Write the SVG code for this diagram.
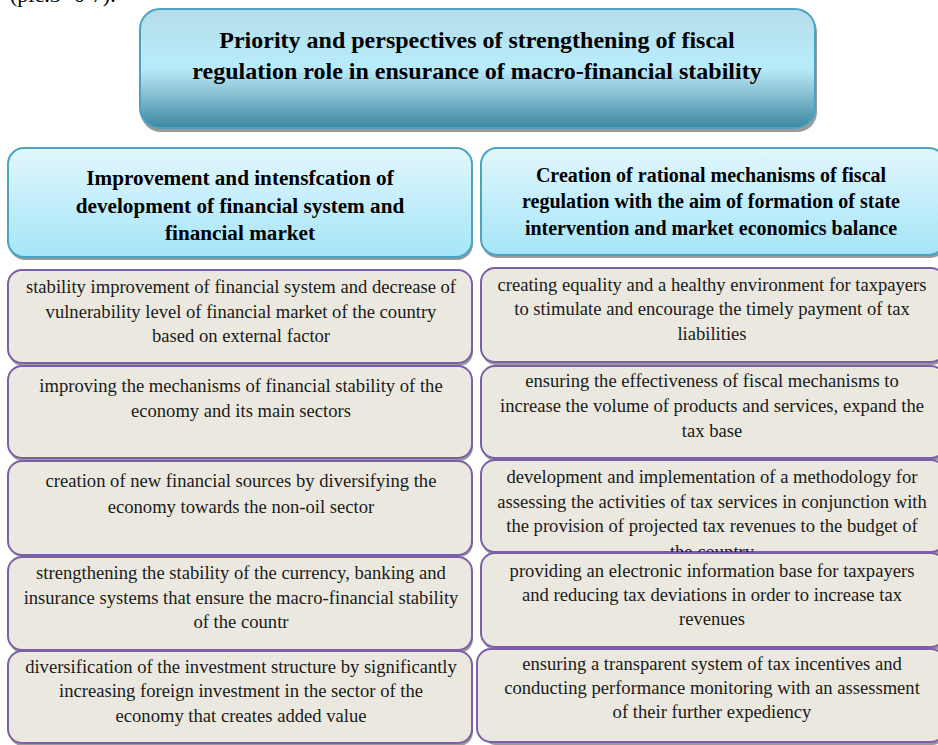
<svg xmlns="http://www.w3.org/2000/svg" width="938" height="745" viewBox="0 0 938 745">
<defs>
<linearGradient id="gTitle" x1="0" y1="0" x2="0" y2="1">
<stop offset="0" stop-color="#b6dde9"/>
<stop offset="0.5" stop-color="#b8ecfb"/>
<stop offset="0.62" stop-color="#9fd3e3"/>
<stop offset="1" stop-color="#3b87a0"/>
</linearGradient>
<linearGradient id="gHead" x1="0" y1="0" x2="0" y2="1">
<stop offset="0" stop-color="#e2f7fd"/>
<stop offset="1" stop-color="#a5e5f8"/>
</linearGradient>
<clipPath id="clipR3"><rect x="481" y="460" width="457" height="92" rx="14"/></clipPath>
</defs>
<style>
.shadow{fill:#9a9a9a}
.title{fill:url(#gTitle);stroke:#4ba3c2;stroke-width:2}
.head{fill:url(#gHead);stroke:#4ba3c2;stroke-width:2}
.item{fill:#ebe9df;stroke:#7d5fa6;stroke-width:2}
.tt{font-family:"Liberation Serif","Times New Roman",serif;font-weight:bold;font-size:24px;fill:#000;text-anchor:middle}
.htl{font-family:"Liberation Serif","Times New Roman",serif;font-weight:bold;font-size:21.2px;fill:#000;text-anchor:middle}
.htr{font-family:"Liberation Serif","Times New Roman",serif;font-weight:bold;font-size:20px;fill:#000;text-anchor:middle}
.it{font-family:"Liberation Serif","Times New Roman",serif;font-size:18.6px;fill:#1a1a1a;text-anchor:middle}
.pre{font-family:"Liberation Serif","Times New Roman",serif;font-size:22px;fill:#000}
</style>
<text class="pre" x="10" y="2">(pic.3- 6-7).</text>
<g id="title">
<rect class="shadow" x="141" y="12" width="676" height="120" rx="20"/>
<rect class="title" x="140" y="9" width="675" height="119" rx="20"/>
<text class="tt" x="477" y="48">Priority and perspectives of strengthening of fiscal</text>
<text class="tt" x="477" y="79">regulation role in ensurance of macro-financial stability</text>
</g>
<g id="head-left">
<rect class="shadow" x="9" y="151" width="464" height="109" rx="16"/>
<rect class="head" x="8" y="148" width="464" height="109" rx="16"/>
<text class="htl" x="240" y="185">Improvement and intensfcation of</text>
<text class="htl" x="240" y="213">development of financial system and</text>
<text class="htl" x="240" y="240">financial market</text>
</g>
<g id="head-right">
<rect class="shadow" x="482" y="151" width="464" height="107" rx="16"/>
<rect class="head" x="481" y="148" width="464" height="107" rx="16"/>
<text class="htr" x="711" y="182">Creation of rational mechanisms of fiscal</text>
<text class="htr" x="711" y="208">regulation with the aim of formation of state</text>
<text class="htr" x="711" y="235">intervention and market economics balance</text>
</g>
<g id="left-1">
<rect class="shadow" x="9" y="273" width="464" height="93" rx="14"/>
<rect class="item" x="8" y="270" width="464" height="93" rx="14"/>
<text class="it" x="241" y="293">stability improvement of financial system and decrease of</text>
<text class="it" x="241" y="318">vulnerability level of financial market of the country</text>
<text class="it" x="241" y="342">based on external factor</text>
</g>
<g id="left-2">
<rect class="shadow" x="9" y="369" width="464" height="92" rx="14"/>
<rect class="item" x="8" y="366" width="464" height="92" rx="14"/>
<text class="it" x="241" y="392">improving the mechanisms of financial stability of the</text>
<text class="it" x="241" y="417">economy and its main sectors</text>
</g>
<g id="left-3">
<rect class="shadow" x="9" y="464" width="464" height="93" rx="14"/>
<rect class="item" x="8" y="461" width="464" height="94" rx="14"/>
<text class="it" x="241" y="487">creation of new financial sources by diversifying the</text>
<text class="it" x="241" y="513">economy towards the non-oil sector</text>
</g>
<g id="left-4">
<rect class="shadow" x="9" y="560" width="464" height="93" rx="14"/>
<rect class="item" x="8" y="557" width="464" height="93" rx="14"/>
<text class="it" x="241" y="579">strengthening the stability of the currency, banking and</text>
<text class="it" x="241" y="604">insurance systems that ensure the macro-financial stability</text>
<text class="it" x="241" y="628">of the countr</text>
</g>
<g id="left-5">
<rect class="shadow" x="9" y="654" width="464" height="92" rx="14"/>
<rect class="item" x="8" y="651" width="464" height="92" rx="14"/>
<text class="it" x="241" y="673">diversification of the investment structure by significantly</text>
<text class="it" x="241" y="697">increasing foreign investment in the sector of the</text>
<text class="it" x="241" y="722">economy that creates added value</text>
</g>
<g id="right-1">
<rect class="shadow" x="482" y="271" width="464" height="94" rx="14"/>
<rect class="item" x="481" y="268" width="464" height="94" rx="14"/>
<text class="it" x="712" y="291">creating equality and a healthy environment for taxpayers</text>
<text class="it" x="712" y="315">to stimulate and encourage the timely payment of tax</text>
<text class="it" x="712" y="340">liabilities</text>
</g>
<g id="right-2">
<rect class="shadow" x="482" y="369" width="464" height="92" rx="14"/>
<rect class="item" x="481" y="366" width="464" height="92" rx="14"/>
<text class="it" x="712" y="387">ensuring the effectiveness of fiscal mechanisms to</text>
<text class="it" x="712" y="412">increase the volume of products and services, expand the</text>
<text class="it" x="712" y="437">tax base</text>
</g>
<g id="right-3">
<rect class="shadow" x="482" y="463" width="464" height="92" rx="14"/>
<rect class="item" x="481" y="460" width="464" height="92" rx="14"/>
<g clip-path="url(#clipR3)">
<text class="it" x="712" y="483">development and implementation of a methodology for</text>
<text class="it" x="712" y="508">assessing the activities of tax services in conjunction with</text>
<text class="it" x="712" y="532">the provision of projected tax revenues to the budget of</text>
<text class="it" x="712" y="558">the country</text>
</g>
</g>
<g id="right-4">
<rect class="shadow" x="482" y="556" width="464" height="94" rx="14"/>
<rect class="item" x="481" y="553" width="464" height="94" rx="14"/>
<text class="it" x="712" y="577">providing an electronic information base for taxpayers</text>
<text class="it" x="712" y="601">and reducing tax deviations in order to increase tax</text>
<text class="it" x="712" y="625">revenues</text>
</g>
<g id="right-5">
<rect class="shadow" x="482" y="652" width="464" height="93" rx="14"/>
<rect class="item" x="477" y="649" width="468" height="93" rx="14"/>
<text class="it" x="712" y="670">ensuring a transparent system of tax incentives and</text>
<text class="it" x="712" y="694">conducting performance monitoring with an assessment</text>
<text class="it" x="712" y="718">of their further expediency</text>
</g>
<g id="connectors"/>
</svg>
